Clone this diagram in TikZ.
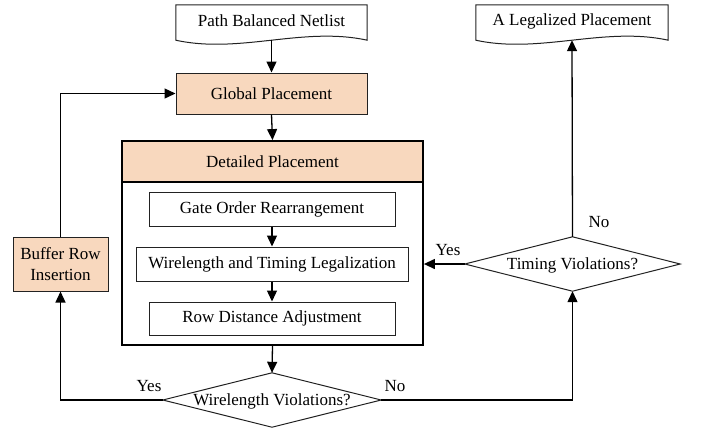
\documentclass[tikz,border=0pt]{standalone}
\usepackage{fontspec}
\setmainfont{Liberation Serif}
\usetikzlibrary{arrows.meta,calc}
\definecolor{peach}{HTML}{F8D8BE}
\definecolor{edge}{HTML}{222222}
\begin{document}
\begin{tikzpicture}[x=1pt,y=-1pt,
  font=\fontsize{17}{21}\selectfont,
  box/.style={draw=edge,line width=1pt,inner sep=0pt,align=center},
  docbox/.style={inner sep=0pt},
  decbox/.style={inner sep=0pt},
  arr/.style={line width=1.3pt,-{Triangle[length=11pt,width=10pt]}},
  lbl/.style={inner sep=0pt}]
\useasboundingbox (0,0) rectangle (702,432);
% documents
\node[docbox,minimum width=191pt,minimum height=35pt] (pbn) at (271.5,22.5) {};
\node[lbl] at (271.5,21) {Path Balanced Netlist};
\node[docbox,minimum width=192pt,minimum height=35pt] (lp) at (572,22.5) {};
\node[lbl] at (572,21) {A Legalized Placement};
\foreach \d in {pbn,lp}{
  \draw[edge,line width=1pt] (\d.north west) -- (\d.north east) -- (\d.south east)
    .. controls ($(\d.south east)+(-64,-14)$) and ($(\d.south west)+(64,14)$) .. (\d.south west) -- cycle;
}
% global placement
\node[box,fill=peach,minimum width=191pt,minimum height=41pt] (gp) at (271.5,93.5) {Global Placement};
% detailed placement container
\node[box,fill=peach,line width=1.8pt,draw=black,minimum width=301pt,minimum height=41pt] (dph) at (272.5,161.5) {Detailed Placement};
\node[draw=black,line width=1.8pt,inner sep=0pt,minimum width=301pt,minimum height=204pt] (dp) at (272.5,243) {};
\node[box,minimum width=246pt,minimum height=34pt] (g1) at (272,209) {Gate Order Rearrangement};
\node[box,minimum width=272pt,minimum height=34pt] (g2) at (272,264) {Wirelength and Timing Legalization};
\node[box,minimum width=246pt,minimum height=33pt] (g3) at (272,318.5) {Row Distance Adjustment};
% buffer row insertion
\node[box,fill=peach,minimum width=95pt,minimum height=54pt] (bri) at (60.5,264) {Buffer Row\\Insertion};
% decisions
\node[decbox,minimum width=218pt,minimum height=54pt] (wv) at (272,400) {};
\node[lbl] at (272,401) {Wirelength Violations?};
\node[decbox,minimum width=215pt,minimum height=54pt] (tv) at (572.5,264) {};
\node[lbl] at (572.5,265) {Timing Violations?};
\foreach \d in {wv,tv}{
  \draw[edge,line width=1pt] (\d.north) -- (\d.east) -- (\d.south) -- (\d.west) -- cycle;
}
% connectors
\draw[arr] (pbn.south) -- (gp.north);
\draw[arr] (gp.south) -- (dph.north);
\draw[arr] (g1.south) -- (g2.north);
\draw[arr] (g2.south) -- (g3.north);
\draw[arr] (dp.south) -- (wv.north);
\draw[arr] (wv.west) -| (bri.south);
\draw[arr] (bri.north) |- (gp.west);
\draw[arr] (wv.east) -| (tv.south);
\draw[arr] (tv.west) -- (tv.west -| dp.east);
\draw[arr] (tv.north) -- (lp.south);
% labels
\node[lbl] at (149,386) {Yes};
\node[lbl] at (395,386) {No};
\node[lbl] at (448,250) {Yes};
\node[lbl] at (599,222) {No};
\end{tikzpicture}
\end{document}
